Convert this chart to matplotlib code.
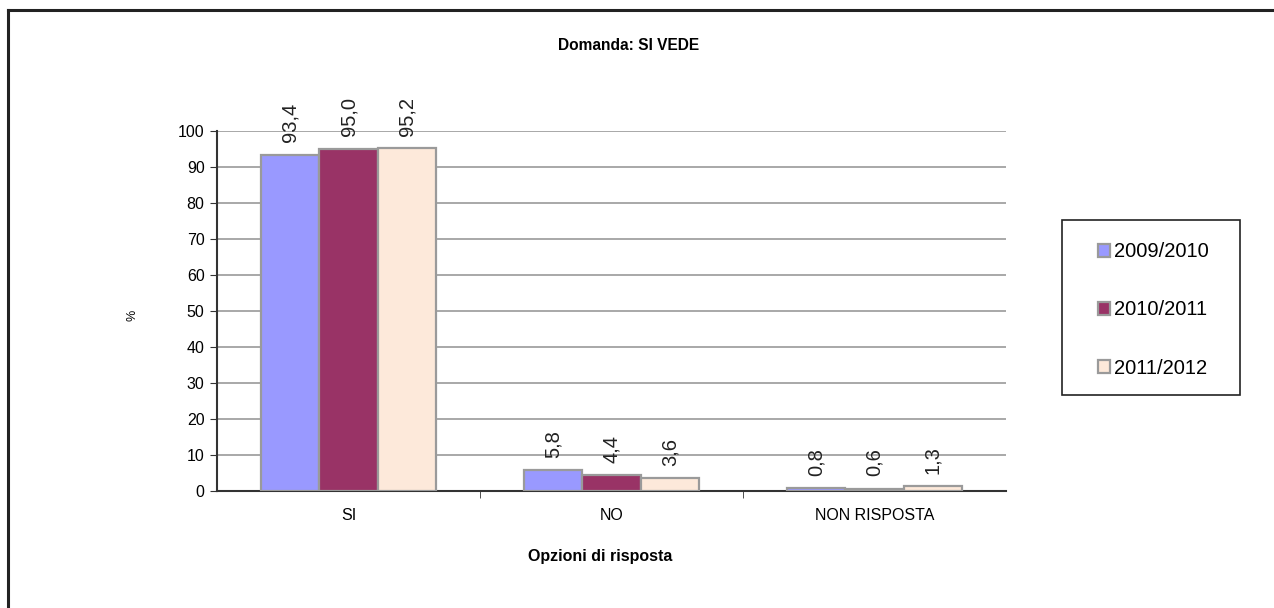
import matplotlib
matplotlib.use('Agg')
import matplotlib.pyplot as plt
from matplotlib.lines import Line2D
from matplotlib.patches import Rectangle
import numpy as np

plt.rcParams['font.family'] = ['Liberation Sans', 'DejaVu Sans']

categories = ['SI', 'NO', 'NON RISPOSTA']
series = ['2009/2010', '2010/2011', '2011/2012']
values = {
    '2009/2010': [93.4, 5.8, 0.8],
    '2010/2011': [95.0, 4.4, 0.6],
    '2011/2012': [95.2, 3.6, 1.3],
}
colors = ['#9999FF', '#993366', '#FDE9DA']
yticks = [0, 10, 20, 30, 40, 50, 60, 70, 80, 90, 100]

W, H = 1274, 608
fig = plt.figure(figsize=(W / 100, H / 100), dpi=100)
fig.patch.set_facecolor('white')

# outer chart border (top and left visible)
fig.add_artist(Line2D([8/W, 8/W], [0, 1 - 10/H], color='#222222', lw=2.2,
                      transform=fig.transFigure))
fig.add_artist(Line2D([8/W, 1], [1 - 10/H, 1 - 10/H], color='#222222', lw=2.2,
                      transform=fig.transFigure))

ax = fig.add_axes([217/W, 117/H, 789/W, 360/H])
ax.set_facecolor('white')

x = np.arange(len(categories))
width = 0.222
for i, s in enumerate(series):
    offs = (i - 1) * width
    bars = ax.bar(x + offs, values[s], width, color=colors[i], edgecolor='#9a9a9a',
                  linewidth=1.6, zorder=3, label=s)
    for bar, v in zip(bars, values[s]):
        ax.annotate(f'{v:.1f}'.replace('.', ','),
                    (bar.get_x() + bar.get_width() / 2, bar.get_height()),
                    xytext=(0, 9), textcoords='offset points', rotation=90,
                    ha='center', va='bottom', fontsize=14.5, color='#222222')

ax.set_xlim(-0.5, 2.5)
ax.set_ylim(0, 100)
ax.set_yticks(yticks)
ax.set_yticklabels([str(t) for t in yticks], fontsize=11.5)
ax.set_xticks(x)
ax.set_xticklabels(categories, fontsize=11.5)
ax.set_xticks([0.5, 1.5], minor=True)
ax.tick_params(axis='x', which='major', length=0, pad=12)
ax.tick_params(axis='x', which='minor', length=5, direction='out', color='#333333')
ax.tick_params(axis='y', length=5, direction='out', color='#333333', pad=4)

ax.grid(axis='y', color='#9a9a9a', linewidth=1.2, zorder=0)
for side in ['top', 'right']:
    ax.spines[side].set_visible(False)
ax.spines['left'].set_color('#333333')
ax.spines['left'].set_linewidth(1.5)
ax.spines['bottom'].set_color('#333333')
ax.spines['bottom'].set_linewidth(1.5)

fig.text(629/W, 1 - 46/H, 'Domanda: SI VEDE', ha='center', va='center',
         fontsize=11.2, fontweight='bold')
fig.text(600/W, 1 - 557/H, 'Opzioni di risposta', ha='center', va='center',
         fontsize=11.5, fontweight='bold')
fig.text(133/W, 1 - 315/H, '%', ha='center', va='center', rotation=90,
         fontsize=9)

# legend frame drawn separately so it can be sized like the original
fig.add_artist(Rectangle((1062/W, 1 - 395/H), 178/W, 175/H, transform=fig.transFigure,
                         facecolor='white', edgecolor='#222222', lw=1.2, zorder=1))
leg = fig.legend(loc='center', bbox_to_anchor=(1153/W, 1 - 310/H),
                 fontsize=14.5, frameon=False,
                 handlelength=0.6, handleheight=0.6, handletextpad=0.2,
                 labelspacing=1.95, borderpad=0, borderaxespad=0)
leg.set_zorder(2)
for h in leg.legend_handles:
    h.set_edgecolor('#9a9a9a')

fig.savefig('out.png', dpi=100, facecolor='white')
